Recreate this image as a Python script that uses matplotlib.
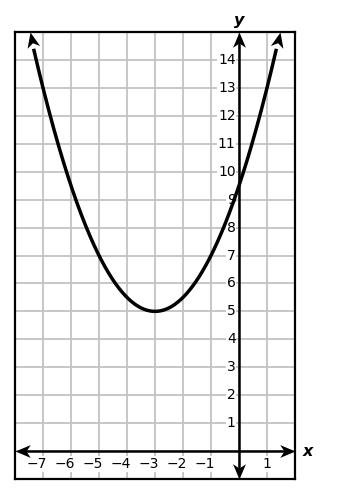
import numpy as np
import matplotlib
matplotlib.use("Agg")
import matplotlib.pyplot as plt
from matplotlib.path import Path
from matplotlib.markers import MarkerStyle
from matplotlib.transforms import Affine2D

# graph window
X_MIN, X_MAX = -8, 2
Y_MIN, Y_MAX = -1, 15

# parabola: vertex and one more point
vertex = (-3, 5)
through = (0, 9.5)
x_ends = [-7.47, 1.47]

x_tick_labels = [-7, -6, -5, -4, -3, -2, -1, 1]
y_tick_labels = list(range(1, 15))

W, H = 337, 495
fig = plt.figure(figsize=(W / 100, H / 100), dpi=100)
ax = fig.add_axes([15 / W, 1 - 479 / H, 280 / W, 447 / H])
ax.set_xlim(X_MIN, X_MAX)
ax.set_ylim(Y_MIN, Y_MAX)
ax.set_xticks([])
ax.set_yticks([])
for s in ax.spines.values():
    s.set_linewidth(1.6)
    s.set_color("black")
    s.set_zorder(6)

# grid
for gx in range(X_MIN + 1, X_MAX):
    ax.axvline(gx, color="#c3c3c3", lw=1.3, zorder=1)
for gy in range(Y_MIN + 1, Y_MAX):
    ax.axhline(gy, color="#c3c3c3", lw=1.3, zorder=1)

HEAD = Path([(0, 0), (-1, 0.42), (-0.72, 0), (-1, -0.42), (0, 0)],
            [Path.MOVETO, Path.LINETO, Path.LINETO, Path.LINETO, Path.CLOSEPOLY])


def head(x, y, ang, size=22):
    m = MarkerStyle(HEAD, transform=Affine2D().rotate_deg(ang))
    ax.plot([x], [y], marker=m, ms=size, color="black", mec="black",
            mew=0, zorder=7, clip_on=False)


# axes with arrows at both ends
ax.plot([X_MIN + 0.2, X_MAX - 0.2], [0, 0], color="black", lw=1.8, zorder=4)
ax.plot([0, 0], [Y_MIN + 0.2, Y_MAX - 0.2], color="black", lw=1.8, zorder=4)
head(X_MAX, 0, 0)
head(X_MIN, 0, 180)
head(0, Y_MAX, 90)
head(0, Y_MIN, -90)

# parabola
a = (through[1] - vertex[1]) / (through[0] - vertex[0]) ** 2
xs = np.linspace(x_ends[0], x_ends[1], 400)
ys = a * (xs - vertex[0]) ** 2 + vertex[1]
ax.plot(xs[6:-6], ys[6:-6], color="black", lw=2.5, zorder=5,
        solid_capstyle="butt")
for i, j in [(0, 1), (-1, -2)]:
    ang = np.degrees(np.arctan2(ys[i] - ys[j], xs[i] - xs[j]))
    head(xs[i], ys[i], ang)

# tick labels
box = dict(facecolor="white", edgecolor="none", pad=0.6)
for v in x_tick_labels:
    if v < 0:
        ax.text(v + 0.14, -0.47, "\u2212" + str(-v), ha="right", va="center",
                fontsize=10, bbox=box, zorder=3)
    else:
        ax.text(v, -0.47, str(v), ha="center", va="center",
                fontsize=10, bbox=box, zorder=3)
for v in y_tick_labels:
    ax.text(-0.12, v, str(v), ha="right", va="center", fontsize=10,
            bbox=box, zorder=3)

ax.text(0, Y_MAX + 0.15, "y", ha="center", va="bottom", fontsize=11.5,
        fontweight="bold", fontstyle="italic", clip_on=False)
ax.text(X_MAX + 0.28, 0, "x", ha="left", va="center", fontsize=11.5,
        fontweight="bold", fontstyle="italic", clip_on=False)

fig.savefig("out.png", dpi=100)
